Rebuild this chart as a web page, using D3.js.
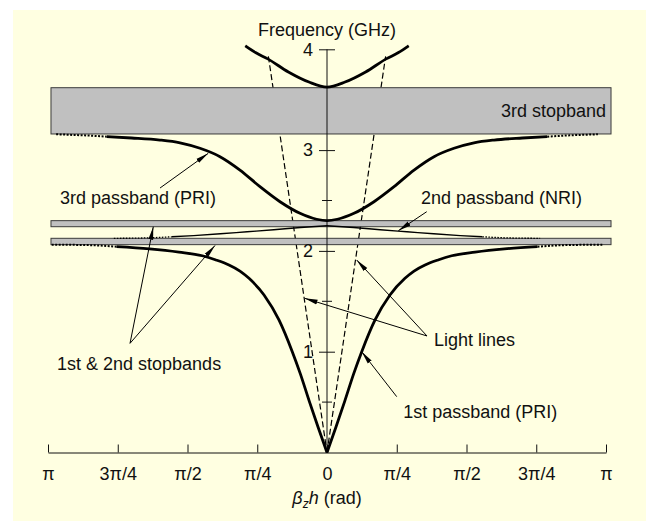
<!DOCTYPE html>
<html>
<head>
<meta charset="utf-8">
<script src="https://cdn.jsdelivr.net/npm/d3@7"></script>
<style>
  body { margin: 0; background: #fff; }
  svg { display: block; font-family: "Liberation Sans", Arial, sans-serif; }
</style>
</head>
<body>
<div id="chart"></div>
<script>
const width = 646;
const height = 521;
const PI = Math.PI;

// x = beta_z*h (rad), f = frequency (GHz); half curves, mirrored about 0
const pass1Half = [[0, 0], [0.1, 0.25], [0.2, 0.51], [0.3, 0.78], [0.391, 1.0], [0.541, 1.315], [0.709, 1.563],
  [0.878, 1.728], [0.98, 1.80], [1.104, 1.86], [1.25, 1.91], [1.404, 1.952], [1.667, 1.988], [2.0, 2.02], [2.37, 2.042]];
const pass1Tail = [[2.37, 2.042], [2.6, 2.055], [2.85, 2.06], [3.1, 2.062]];

const pass2Half = [[0, 2.25], [0.3, 2.232], [0.6, 2.21], [0.9, 2.19], [1.2, 2.17], [1.5, 2.152], [1.75, 2.14]];
const pass2Tail = [[1.75, 2.14], [2.0, 2.13], [2.2, 2.126], [2.4, 2.125]];

const pass3Half = [[0, 2.30], [0.116, 2.314], [0.304, 2.373], [0.529, 2.488], [0.755, 2.637], [0.98, 2.802],
  [1.205, 2.935], [1.43, 3.018], [1.655, 3.072], [1.881, 3.100], [2.2, 3.12], [2.48, 3.133]];
const pass3Tail = [[2.48, 3.133], [2.7, 3.145], [2.9, 3.152], [3.05, 3.157]];

const pass4Half = [[0, 3.625], [0.203, 3.675], [0.435, 3.775], [0.667, 3.905], [0.8, 3.965], [0.92, 4.035]];

const lightLine = [[0, 0], [0.66, 3.93]];

// stopbands: [x0, x1, f0, f1]
const stopbands = [
  [-3.108, 3.198, 3.160, 3.619],
  [-3.108, 3.198, 2.240, 2.300],
  [-3.108, 3.198, 2.062, 2.125]
];

const xTicks = [-PI, -3 * PI / 4, -PI / 2, -PI / 4, 0, PI / 4, PI / 2, 3 * PI / 4, PI];
const xTickLabels = ['π', '3π/4', 'π/2', 'π/4', '0', 'π/4', 'π/2', '3π/4', 'π'];
const yTicks = [1, 2, 3, 4];
const yTickLabels = ['1', '2', '3', '4'];
const yMinorTicks = [0.5, 1.5, 2.5];

// labels: [text, x, f, anchor]
const labels = [
  ['Frequency (GHz)', 0, 4.127, 'middle'],
  ['3rd stopband', PI, 3.331, 'end'],
  ['3rd passband (PRI)', -3.006, 2.465, 'start'],
  ['2nd passband (NRI)', 1.058, 2.465, 'start'],
  ['1st & 2nd stopbands', -3.04, 0.818, 'start'],
  ['Light lines', 1.205, 1.052, 'start'],
  ['1st passband (PRI)', 0.859, 0.342, 'start']
];

// arrows: [tail, tip]
const arrows = [
  [[-1.880, 2.624], [-1.337, 2.968]],
  [[1.123, 2.389], [0.803, 2.200]],
  [[-2.218, 1.083], [-1.956, 2.240]],
  [[-2.218, 1.083], [-1.261, 2.054]],
  [[1.126, 1.156], [-0.252, 1.530]],
  [[1.126, 1.156], [0.334, 1.910]],
  [[0.785, 0.554], [0.391, 1.0]]
];

const mirror = half => half.map(([x, f]) => [-x, f]).reverse();
const full = half => mirror(half).concat(half.slice(1));

const svg = d3.select('#chart').append('svg')
  .attr('width', width)
  .attr('height', height);

svg.append('defs').append('marker')
  .attr('id', 'head')
  .attr('markerUnits', 'userSpaceOnUse')
  .attr('markerWidth', 13).attr('markerHeight', 6)
  .attr('refX', 13).attr('refY', 3)
  .attr('orient', 'auto')
  .append('path').attr('d', 'M0,0.6 L13,3 L0,5.4 Z').attr('fill', '#000');

svg.append('rect')
  .attr('x', 13).attr('y', 10)
  .attr('width', width - 13).attr('height', height - 10)
  .attr('fill', '#ffffe1');

const x = d3.scaleLinear().domain([-PI, PI]).range([48, 606]);
const y = d3.scaleLinear().domain([0, 4]).range([452.5, 49.3]);

const line = d3.line().x(d => x(d[0])).y(d => y(d[1])).curve(d3.curveMonotoneX);
const straight = d3.line().x(d => x(d[0])).y(d => y(d[1]));

// light lines (dashed)
svg.append('g').selectAll('path')
  .data([lightLine, mirror(lightLine)])
  .join('path')
  .attr('d', straight)
  .attr('fill', 'none')
  .attr('stroke', '#000')
  .attr('stroke-width', 1.2)
  .attr('stroke-dasharray', '6,3');

// stopbands
svg.append('g').selectAll('rect')
  .data(stopbands)
  .join('rect')
  .attr('x', d => x(d[0]))
  .attr('width', d => x(d[1]) - x(d[0]))
  .attr('y', d => y(d[3]))
  .attr('height', d => y(d[2]) - y(d[3]))
  .attr('fill', '#c0c0c0')
  .attr('stroke', '#3a3a3a')
  .attr('stroke-width', 1);

// x axis
const xAxis = d3.axisBottom(x)
  .tickValues(xTicks)
  .tickFormat((d, i) => xTickLabels[i])
  .tickSizeInner(-8)
  .tickSizeOuter(0)
  .tickPadding(14.5);

const gx = svg.append('g')
  .attr('transform', `translate(0,${y(0)})`)
  .call(xAxis);
gx.selectAll('text').attr('font-size', 18).attr('font-family', '"Liberation Sans", Arial, sans-serif').attr('fill', '#111');
gx.selectAll('line, path').attr('stroke', '#111');

// y axis
const yAxis = d3.axisLeft(y)
  .tickValues(yTicks)
  .tickFormat((d, i) => yTickLabels[i])
  .tickSizeInner(8)
  .tickSizeOuter(0)
  .tickPadding(6);

const gy = svg.append('g')
  .attr('transform', `translate(${x(0)},0)`)
  .call(yAxis);
gy.select('.domain').attr('d', `M0,${y(0)}V${y(4)}`);
gy.selectAll('.tick line').attr('x2', -8).attr('x1', 8);
gy.selectAll('text').attr('font-size', 18).attr('font-family', '"Liberation Sans", Arial, sans-serif').attr('fill', '#111');
gy.selectAll('line, path').attr('stroke', '#111');

gy.selectAll('.minor')
  .data(yMinorTicks)
  .join('line')
  .attr('class', 'minor')
  .attr('x1', -5).attr('x2', 5)
  .attr('y1', d => y(d)).attr('y2', d => y(d))
  .attr('stroke', '#111');

// dispersion curves
const curves = svg.append('g').attr('fill', 'none').attr('stroke', '#000');

[pass1Half, mirror(pass1Half)].forEach(d => {
  curves.append('path').attr('d', line(d)).attr('stroke-width', 2.8);
});
[pass1Tail, mirror(pass1Tail)].forEach(d => {
  curves.append('path').attr('d', line(d)).attr('stroke-width', 2).attr('stroke-dasharray', '2,1.5');
});

[pass2Half, mirror(pass2Half)].forEach(d => {
  curves.append('path').attr('d', line(d)).attr('stroke-width', 1.4);
});
[pass2Tail, mirror(pass2Tail)].forEach(d => {
  curves.append('path').attr('d', line(d)).attr('stroke-width', 1.3).attr('stroke-dasharray', '1.5,1.5');
});

curves.append('path').attr('d', line(full(pass3Half))).attr('stroke-width', 2.8);
[pass3Tail, mirror(pass3Tail)].forEach(d => {
  curves.append('path').attr('d', line(d)).attr('stroke-width', 2).attr('stroke-dasharray', '2,1.5');
});

curves.append('path').attr('d', line(full(pass4Half))).attr('stroke-width', 2.8);

// labels
svg.append('g').selectAll('text')
  .data(labels)
  .join('text')
  .attr('x', d => x(d[1]))
  .attr('y', d => y(d[2]))
  .attr('text-anchor', d => d[3])
  .attr('font-size', 18)
  .attr('fill', '#111')
  .text(d => d[0]);

const xt = svg.append('text')
  .attr('x', x(0))
  .attr('y', 504)
  .attr('text-anchor', 'middle')
  .attr('font-size', 18)
  .attr('fill', '#111');
xt.append('tspan').attr('font-style', 'italic').text('β');
xt.append('tspan').attr('font-style', 'italic').attr('font-size', 12).attr('dy', 4).text('z');
xt.append('tspan').attr('font-style', 'italic').attr('dy', -4).text('h');
xt.append('tspan').text(' (rad)');

// arrows
svg.append('g').selectAll('line')
  .data(arrows)
  .join('line')
  .attr('x1', d => x(d[0][0])).attr('y1', d => y(d[0][1]))
  .attr('x2', d => x(d[1][0])).attr('y2', d => y(d[1][1]))
  .attr('stroke', '#000')
  .attr('stroke-width', 1)
  .attr('marker-end', 'url(#head)');
</script>
</body>
</html>
